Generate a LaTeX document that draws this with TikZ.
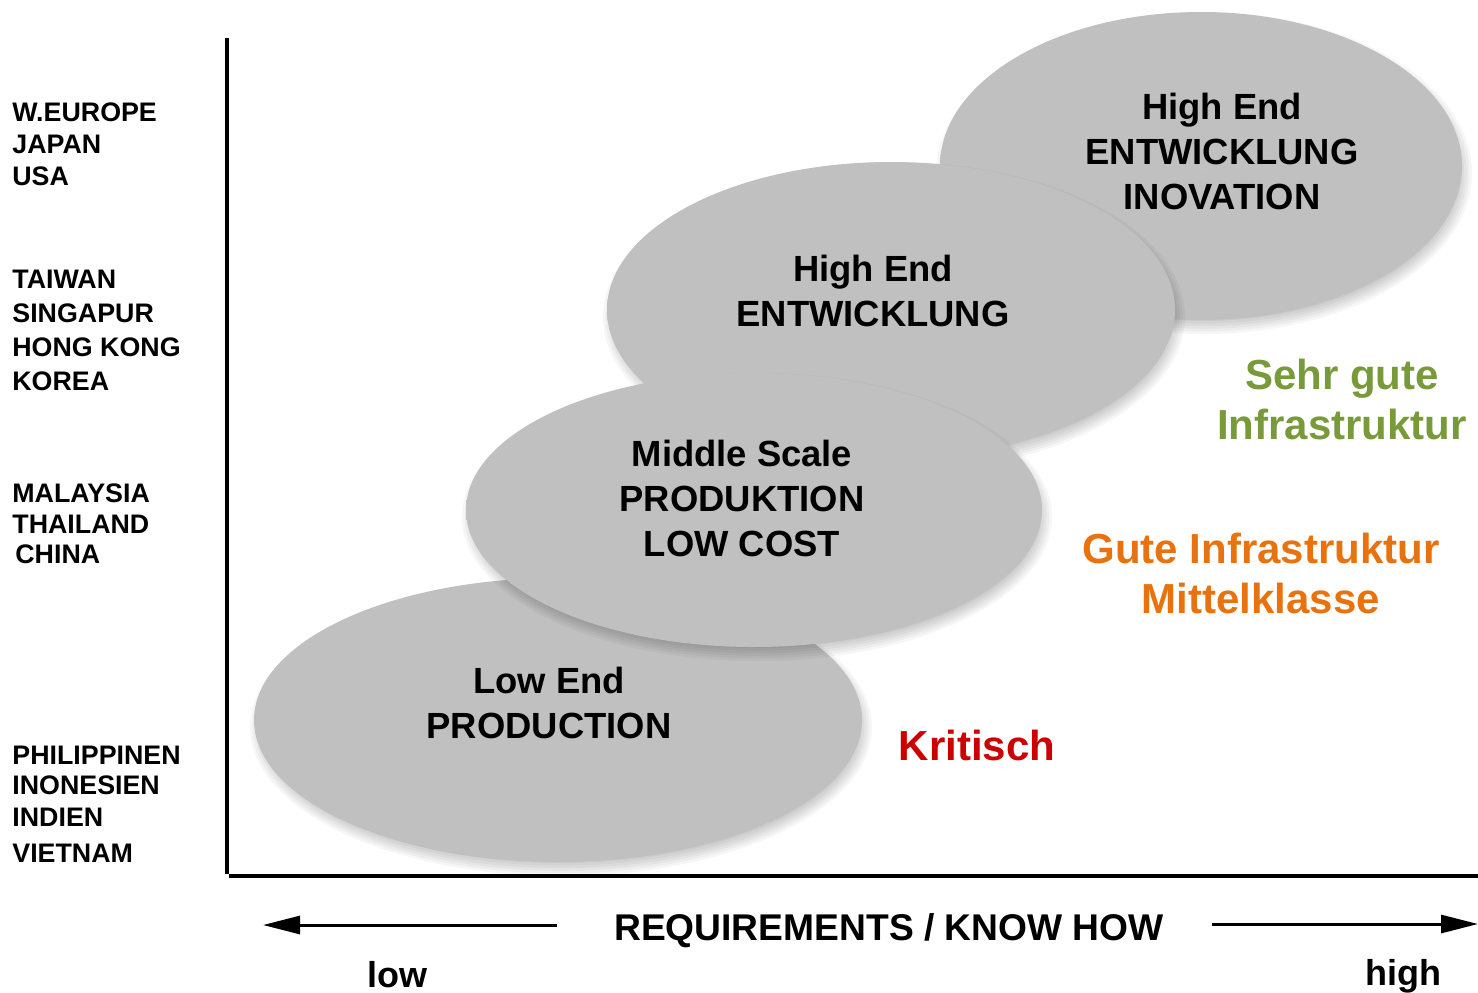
\documentclass[tikz,border=0pt]{standalone}
\usepackage{fontspec}
\setmainfont{Liberation Sans}
\usetikzlibrary{arrows.meta}
\definecolor{grn}{HTML}{789A3A}
\definecolor{org}{HTML}{E8730E}
\definecolor{krit}{HTML}{CC0000}
\pgfdeclareradialshading{ellsh}{\pgfpoint{0bp}{0bp}}{%
 rgb(0bp)=(0.755,0.755,0.755);
 rgb(40bp)=(0.75,0.75,0.75);
 rgb(46.8bp)=(0.68,0.68,0.68);
 rgb(48.8bp)=(0.73,0.73,0.73);
 rgb(50bp)=(0.94,0.94,0.94);
 rgb(100bp)=(0.94,0.94,0.94)}
\newcommand{\blobshape}[4]{%
  \foreach \k in {0,...,5}{%
    \fill[black,opacity=0.035] (#1+3,#2+7) ellipse [x radius=#3pt+\k*1.3pt-3pt, y radius=#4pt+\k*1.3pt-3pt];
  }%
  \shade[shading=ellsh] (#1,#2) ellipse [x radius=#3pt, y radius=#4pt];
}
\tikzset{
  etext/.style={font=\fontsize{18.2}{22.5}\selectfont\bfseries, align=center, inner sep=0pt, text=black},
  infra/.style={font=\fontsize{21}{25}\selectfont\bfseries, align=center, inner sep=0pt},
  country/.style={font=\fontsize{13.4}{15}\selectfont\bfseries, anchor=west, inner sep=0pt},
  axisline/.style={line width=2pt, black},
  arr/.style={line width=1.5pt, -{Triangle[length=18.5pt,width=9pt]}},
  axlabel/.style={font=\fontsize{18.6}{22}\selectfont\bfseries, inner sep=0pt},
}
\begin{document}
\begin{tikzpicture}[x=0.5pt,y=-0.5pt]
\useasboundingbox (0,0) rectangle (1478,992);
\fill[white] (0,0) rectangle (1478,992);

% ellipses (drawing order: back to front)
\blobshape{1201}{166}{130.5}{77}
\blobshape{891}{310}{142}{74}
\blobshape{558}{720}{152}{71}
\blobshape{754}{510}{144}{68.5}

% ellipse texts
\node[etext] (t4) at (1222,151) {High End\\ENTWICKLUNG\\INOVATION};
\node[etext] (t3) at (873,291) {High End\\ENTWICKLUNG};
\node[etext] (t2) at (742,498) {Middle Scale\\PRODUKTION\\LOW COST};
\node[etext] (t1) at (549,703) {Low End\\PRODUCTION};

% infrastructure labels
\node[infra, text=grn] (sg) at (1342,399) {Sehr gute\\Infrastruktur};
\node[infra, text=org] (gi) at (1261,573) {Gute Infrastruktur\\Mittelklasse};
\node[infra, text=krit] (kr) at (977,745) {Kritisch};

% country labels
\node[country] (c1) at (12,112) {W.EUROPE};
\node[country] (c2) at (12,144) {JAPAN};
\node[country] (c3) at (12,176) {USA};
\node[country] (c4) at (12,279) {TAIWAN};
\node[country] (c5) at (12,313) {SINGAPUR};
\node[country] (c6) at (12,347) {HONG KONG};
\node[country] (c7) at (12,381) {KOREA};
\node[country] (c8) at (12,493) {MALAYSIA};
\node[country] (c9) at (12,524) {THAILAND};
\node[country] (c10) at (15,554) {CHINA};
\node[country] (c11) at (12,755) {PHILIPPINEN};
\node[country] (c12) at (12,785) {INONESIEN};
\node[country] (c13) at (12,817) {INDIEN};
\node[country] (c14) at (12,853) {VIETNAM};

% axes
\coordinate (ytop) at (227,38);
\coordinate (ybot) at (227,874);
\coordinate (xbeg) at (229,876);
\coordinate (xend) at (1478,876);
\draw[axisline] (ytop) -- (ybot);
\draw[axisline, line width=2.2pt] (xbeg) -- (xend);

% requirement axis
\node[axlabel] (req) at (889,931) {REQUIREMENTS / KNOW HOW};
\coordinate (ls) at (557,925);
\coordinate (la) at (263,925);
\coordinate (rs) at (1212,924);
\coordinate (ra) at (1478,924);
\draw[arr] (ls) -- (la);
\draw[arr] (rs) -- (ra);
\node[axlabel, anchor=base, font=\fontsize{18}{20}\selectfont\bfseries] (low) at (397,987) {low};
\node[axlabel, anchor=base, font=\fontsize{18}{20}\selectfont\bfseries] (high) at (1403,985) {high};
\end{tikzpicture}
\end{document}
